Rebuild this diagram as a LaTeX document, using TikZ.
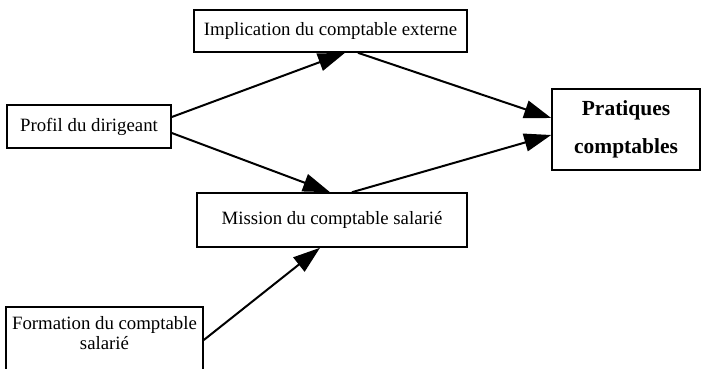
\documentclass[tikz,border=0pt]{standalone}
\usepackage{fontspec}
\setmainfont{Liberation Serif}
\usetikzlibrary{arrows.meta,calc}
\begin{document}
\begin{tikzpicture}[x=1pt,y=-1pt,
  box/.style={draw,line width=1.6pt,inner sep=0pt,align=center,font=\fontsize{18.8}{21}\selectfont},
  arr/.style={line width=2pt,-{Triangle[length=27pt,width=18pt]}}]
\useasboundingbox (0,0) rectangle (706,369);
\clip (0,0) rectangle (706,369);
\node[box,minimum width=273pt,minimum height=42pt] (impl) at (330.5,31) {Implication du comptable externe};
\node[box,minimum width=164pt,minimum height=43pt] (profil) at (89,126.5) {Profil du dirigeant};
\node[box,minimum width=148pt,minimum height=81pt,font=\bfseries\fontsize{21.5}{38}\selectfont] (prat) at (626,129.5) {Pratiques\\comptables};
\node[box,minimum width=270pt,minimum height=54pt] (mission) at (332,220) {Mission du comptable salarié};
\node[box,minimum width=197pt,minimum height=66pt] (form) at (104.5,340) {\raisebox{5pt}[\height][\depth]{\begin{tabular}{@{}c@{}}Formation du comptable\\[-1pt]salarié\end{tabular}}};
\draw[arr] ($(profil.east)+(0,-9.5)$) -- ($(impl.south)+(14.5,0)$);
\draw[arr] ($(profil.east)+(0,6.5)$) -- ($(mission.north)+(-2,0)$);
\draw[arr] ($(impl.south)+(27.5,0)$) -- ($(prat.west)+(0,-11.5)$);
\draw[arr] ($(mission.north)+(20,0)$) -- ($(prat.west)+(0,5.5)$);
\draw[arr] ($(form.east)+(0,0)$) -- ($(mission.south)+(-12,0)$);
\end{tikzpicture}
\end{document}
